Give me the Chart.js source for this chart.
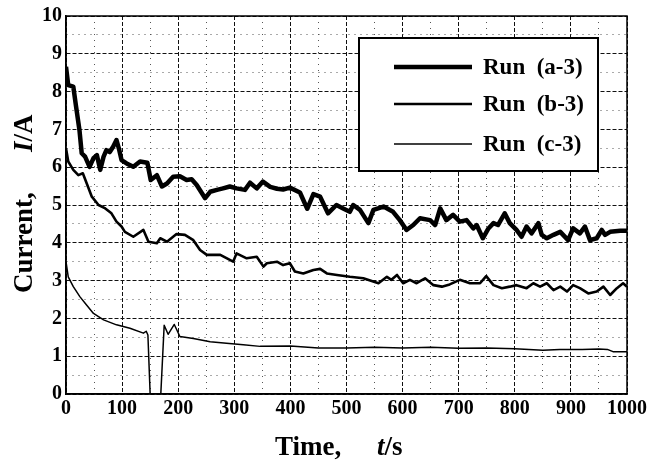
<!DOCTYPE html>
<html>
<head>
<meta charset="utf-8">
<script src="https://cdn.jsdelivr.net/npm/chart.js@4.4.1/dist/chart.umd.min.js"></script>
<style>
  body { margin: 0; background: #fff; }
  #wrap { width: 650px; height: 461px; }
</style>
</head>
<body>
<div id="wrap"><canvas id="lineChart" width="650" height="461"></canvas></div>
<script>
// Run (a-3)
const timeA = [0,4,13,18,24,28,34,42,49,55,61,67,72,78,84,90,95,99,108,120,132,145,151,162,171,180,191,203,215,224,233,248,257,269,280,292,304,319,328,340,351,364,376,387,399,417,430,441,453,467,482,494,506,512,524,539,548,566,583,595,607,619,631,649,658,667,678,690,702,714,726,732,743,753,762,770,782,791,803,812,821,830,842,848,857,869,881,895,904,916,925,934,946,955,961,970,988,1000];
const currentA = [8.66,8.17,8.13,7.6,6.98,6.37,6.28,6.01,6.24,6.32,5.93,6.28,6.45,6.4,6.54,6.72,6.45,6.19,6.10,6.01,6.15,6.12,5.66,5.79,5.49,5.57,5.75,5.76,5.66,5.68,5.53,5.18,5.35,5.40,5.44,5.49,5.44,5.40,5.59,5.44,5.62,5.48,5.43,5.41,5.46,5.33,4.90,5.29,5.22,4.78,5.0,4.91,4.82,5.0,4.87,4.52,4.87,4.96,4.82,4.60,4.34,4.47,4.65,4.60,4.47,4.91,4.60,4.74,4.56,4.60,4.38,4.47,4.12,4.38,4.52,4.47,4.78,4.52,4.34,4.16,4.43,4.25,4.52,4.21,4.12,4.21,4.29,4.07,4.38,4.25,4.43,4.07,4.12,4.34,4.21,4.29,4.32,4.32];

// Run (b-3)
const timeB = [0,4,13,22,30,37,46,58,70,81,90,99,105,120,138,147,162,168,180,197,212,227,239,251,275,298,304,322,340,352,358,376,387,399,408,423,441,453,465,483,506,530,557,572,580,590,601,613,625,640,655,670,684,702,720,738,749,762,777,791,803,821,833,845,857,869,881,893,904,916,931,946,958,970,982,993,1000];
const currentB = [6.50,6.15,5.93,5.79,5.84,5.57,5.22,5.00,4.91,4.78,4.56,4.43,4.29,4.16,4.34,4.03,3.99,4.12,4.03,4.23,4.21,4.07,3.81,3.68,3.68,3.50,3.72,3.59,3.63,3.37,3.46,3.50,3.41,3.46,3.24,3.19,3.28,3.31,3.19,3.15,3.10,3.06,2.93,3.10,3.02,3.15,2.93,3.02,2.93,3.06,2.88,2.84,2.90,3.02,2.93,2.93,3.12,2.88,2.80,2.84,2.88,2.80,2.93,2.84,2.93,2.75,2.84,2.71,2.88,2.80,2.66,2.71,2.84,2.62,2.80,2.93,2.84];

// Run (c-3)
const timeC = [0,4,13,25,37,49,67,90,114,138,143,146,150,169,175,182,193,203,227,257,286,316,346,400,450,500,550,600,650,700,750,800,850,880,920,950,965,975,1000];
const currentC = [3.50,3.10,2.84,2.57,2.35,2.13,1.96,1.83,1.74,1.61,1.66,1.56,0,0,1.82,1.58,1.84,1.52,1.47,1.38,1.34,1.30,1.26,1.27,1.22,1.22,1.24,1.22,1.24,1.21,1.22,1.20,1.16,1.18,1.18,1.19,1.18,1.12,1.12];

const runLabels = ['Run  (a-3)', 'Run  (b-3)', 'Run  (c-3)'];
const runWidths = [4.5, 2.6, 1.5];

const serif = '"Liberation Serif", "Times New Roman", serif';

const toPoints = (xs, ys) => xs.map((x, i) => ({ x: x, y: ys[i] }));

const isMajor = (v, step) => Math.abs(v / step - Math.round(v / step)) < 1e-6;

// frame, axis titles and the boxed legend
const extras = {
    id: 'extras',
    afterDatasetsDraw(chart) {
        const ctx = chart.ctx;
        const a = chart.chartArea;
        ctx.save();
        ctx.strokeStyle = '#000';
        ctx.lineWidth = 1.5;
        ctx.strokeRect(a.left, a.top, a.right - a.left, a.bottom - a.top);

        // legend
        const bx = 359, by = 38, bw = 239, bh = 133;
        ctx.fillStyle = '#fff';
        ctx.fillRect(bx, by, bw, bh);
        ctx.lineWidth = 2;
        ctx.strokeRect(bx, by, bw, bh);
        const rows = [67, 104, 144];
        ctx.font = 'bold 23px ' + serif;
        ctx.textBaseline = 'middle';
        ctx.fillStyle = '#000';
        chart.data.datasets.forEach((ds, i) => {
            ctx.lineWidth = ds.borderWidth;
            ctx.beginPath();
            ctx.moveTo(394, rows[i]);
            ctx.lineTo(472, rows[i]);
            ctx.stroke();
            ctx.fillText(ds.label, 483, rows[i] + 1);
        });

        // x title
        ctx.textBaseline = 'alphabetic';
        ctx.font = 'bold 27px ' + serif;
        ctx.fillText('Time,', 275, 455);
        ctx.font = 'italic bold 27px ' + serif;
        ctx.fillText('t', 377, 455);
        let w = ctx.measureText('t').width;
        ctx.font = 'bold 27px ' + serif;
        ctx.fillText('/s', 377 + w, 455);

        // y title
        ctx.translate(32, 293);
        ctx.rotate(-Math.PI / 2);
        ctx.fillText('Current,', 0, 0);
        ctx.font = 'italic bold 27px ' + serif;
        ctx.fillText('I', 141, 0);
        w = ctx.measureText('I').width;
        ctx.font = 'bold 27px ' + serif;
        ctx.fillText('/A', 141 + w, 0);
        ctx.restore();
    }
};

const lineChart = () => {
    const data = {
        datasets: [
            { label: runLabels[0], data: toPoints(timeA, currentA), borderWidth: runWidths[0] },
            { label: runLabels[1], data: toPoints(timeB, currentB), borderWidth: runWidths[1] },
            { label: runLabels[2], data: toPoints(timeC, currentC), borderWidth: runWidths[2] }
        ].map(d => Object.assign(d, {
            borderColor: '#000',
            backgroundColor: '#000',
            pointRadius: 0,
            tension: 0,
            borderJoinStyle: 'round',
            fill: false
        }))
    };
    const config = {
        type: 'line',
        data,
        plugins: [extras],
        options: {
            responsive: false,
            animation: false,
            devicePixelRatio: 1,
            layout: { padding: { top: 16, right: 23, left: 0, bottom: 0 } },
            plugins: { legend: { display: false }, tooltip: { enabled: false } },
            scales: {
                x: {
                    type: 'linear',
                    min: 0,
                    max: 1000,
                    afterFit: (s) => { s.height = 67; },
                    ticks: {
                        stepSize: 50,
                        autoSkip: false,
                        maxRotation: 0,
                        padding: 3,
                        color: '#000',
                        font: { family: serif, size: 20, weight: 'bold' },
                        callback: (v) => isMajor(v, 100) ? v : ''
                    },
                    grid: {
                        drawTicks: false,
                        color: (c) => isMajor(c.tick.value, 100) ? '#111' : '#555',
                        lineWidth: 1
                    },
                    border: {
                        color: '#000',
                        width: 1.5,
                        dash: (c) => c.tick && isMajor(c.tick.value, 100) ? [4, 2] : [1, 5]
                    }
                },
                y: {
                    min: 0,
                    max: 10,
                    afterFit: (s) => { s.width = 66; },
                    ticks: {
                        stepSize: 0.5,
                        autoSkip: false,
                        padding: 4,
                        color: '#000',
                        font: { family: serif, size: 20, weight: 'bold' },
                        callback: (v) => isMajor(v, 1) ? v : ''
                    },
                    grid: {
                        drawTicks: false,
                        color: (c) => isMajor(c.tick.value, 1) ? '#111' : '#555',
                        lineWidth: 1
                    },
                    border: {
                        color: '#000',
                        width: 1.5,
                        dash: (c) => c.tick && isMajor(c.tick.value, 1) ? [4, 2] : [1, 5]
                    }
                }
            }
        }
    };
    new Chart(document.getElementById('lineChart'), config);
};

document.addEventListener('DOMContentLoaded', () => {
    lineChart();
});
</script>
</body>
</html>
